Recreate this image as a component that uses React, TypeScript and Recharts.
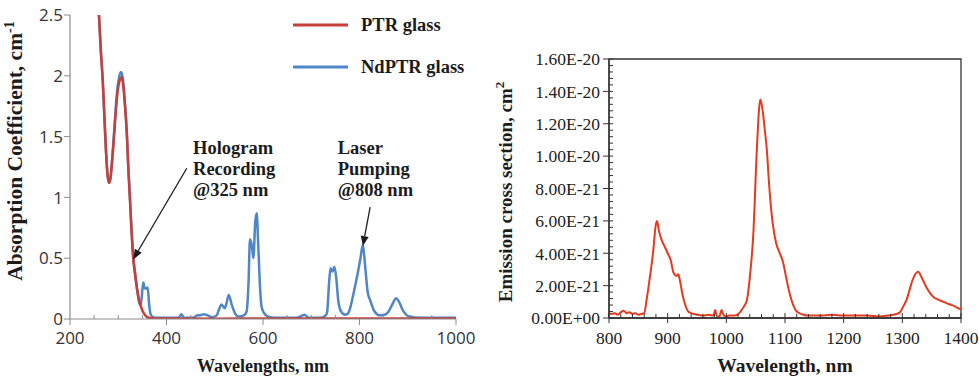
import React from "react";
import {
  Label,
  Legend,
  Line,
  LineChart,
  ReferenceArea,
  ReferenceDot,
  ReferenceLine,
  XAxis,
  YAxis,
} from "recharts";

const SERIF = "'Liberation Serif', 'Times New Roman', serif";
const SANS = "'Open Sans', 'DejaVu Sans', sans-serif";
const INK = "#1c1c1c";
const GREY_AXIS = "#8c8c8c";
const PTR_RED = "#c63f3b";
const ND_BLUE = "#4f86c6";
const EMS_RED = "#e63a1e";

// absorption, left panel
const ptrWavelength = [
  260, 264, 268, 272, 275, 278, 281, 284, 287, 290, 293, 296, 299, 302, 305, 307,
  310, 314, 318, 321, 324, 327, 331, 335, 340, 345, 350, 355, 360, 370, 400, 500,
  600, 700, 800, 900, 1000,
];
const ptrAbsorption = [
  2.5, 2.2, 1.95, 1.6, 1.35, 1.18, 1.12, 1.16, 1.28, 1.43, 1.6, 1.76, 1.88, 1.95, 1.98, 1.99,
  1.93, 1.75, 1.5, 1.22, 1.0, 0.76, 0.5, 0.36, 0.22, 0.13, 0.07, 0.035, 0.015, 0.006, 0.004, 0.003,
  0.004, 0.004, 0.005, 0.005, 0.005,
];

const ndWavelength = [
  260, 264, 268, 272, 275, 278, 281, 284, 287, 290, 293, 296, 299, 302, 305, 307,
  310, 314, 318, 321, 324, 327, 331, 335, 340, 344, 347, 350, 352, 355, 358, 361,
  364, 367, 372, 380, 425, 431, 436, 455, 465, 470, 478, 485, 495, 504, 509, 514,
  521, 525, 529, 535, 542, 550, 560, 566, 570, 573, 577, 580, 584, 587, 590, 594,
  597, 602, 608, 615, 630, 670, 680, 686, 695, 720, 730, 733, 737, 740, 744, 748,
  752, 756, 762, 770, 775, 780, 787, 795, 802, 807, 812, 817, 822, 830, 842, 852,
  860, 868, 876, 882, 890, 898, 905, 915, 950, 1000,
];
const ndAbsorption = [
  2.5, 2.2, 1.95, 1.6, 1.35, 1.18, 1.12, 1.17, 1.3, 1.46, 1.63, 1.8, 1.92, 1.99, 2.03, 2.03,
  1.96, 1.77, 1.52, 1.24, 1.02, 0.78, 0.52, 0.38, 0.22, 0.12, 0.12, 0.24, 0.3, 0.25, 0.25, 0.26,
  0.12, 0.04, 0.015, 0.01, 0.01, 0.04, 0.01, 0.01, 0.03, 0.03, 0.04, 0.03, 0.015, 0.03, 0.08, 0.12,
  0.088, 0.14, 0.197, 0.12, 0.047, 0.02, 0.03, 0.06, 0.3, 0.655, 0.6, 0.5, 0.8, 0.87, 0.62, 0.25,
  0.1, 0.05, 0.025, 0.015, 0.01, 0.01, 0.025, 0.035, 0.01, 0.01, 0.03, 0.06, 0.3, 0.417, 0.39, 0.43,
  0.33, 0.15, 0.06, 0.035, 0.04, 0.08, 0.2, 0.35, 0.5, 0.61, 0.42, 0.22, 0.156, 0.07, 0.03, 0.035,
  0.06, 0.12, 0.17, 0.14, 0.07, 0.03, 0.02, 0.012, 0.01, 0.01,
];

const absXTicks = [200, 400, 600, 800, 1000];
const absXMinorTicks = [250, 300, 350, 450, 500, 550, 650, 700, 750, 850, 900, 950];
const absYTicks = [0, 0.5, 1, 1.5, 2, 2.5];
const absYTickLabels = ["0", "0.5", "1", "1.5", "2", "2.5"];

const hologramLines = ["Hologram", "Recording", "@325 nm"];
const pumpingLines = ["Laser", "Pumping", "@808 nm"];

// emission cross section, right panel (units of 1e-21 cm^2)
const emsWavelength = [
  800, 805, 810, 815, 820, 825, 830, 835, 840, 845, 850, 855, 860, 864, 870, 875,
  880, 882, 885, 890, 895, 900, 905, 910, 915, 918, 921, 925, 930, 935, 940, 950,
  960, 970, 978, 981, 984, 988, 992, 995, 998, 1005, 1015, 1022, 1028, 1035, 1040, 1046,
  1052, 1056, 1058, 1062, 1065, 1069, 1073, 1077, 1080, 1085, 1090, 1097, 1102, 1108, 1114, 1120,
  1130, 1140, 1160, 1180, 1200, 1220, 1240, 1260, 1275, 1285, 1290, 1296, 1302, 1307, 1312, 1317,
  1322, 1327, 1333, 1341, 1347, 1353, 1360, 1370, 1380, 1388, 1395, 1400,
];
const emsCross = [
  0.3, 0.25, 0.3, 0.2, 0.35, 0.45, 0.3, 0.35, 0.25, 0.3, 0.2, 0.25, 0.3, 1.1, 2.6, 4.0,
  5.8, 6.0, 5.4, 4.8, 4.4, 4.0, 3.6, 2.8, 2.6, 2.7, 2.3, 1.5, 0.8, 0.4, 0.3, 0.2,
  0.15, 0.2, 0.15, 0.5, 0.1, 0.1, 0.5, 0.2, 0.1, 0.15, 0.15, 0.3, 0.6, 1.1, 2.5, 5.2,
  10.4, 13.0, 13.5, 12.8, 11.8, 10.4, 8.2, 6.5, 5.6, 4.6, 4.1, 3.4, 2.5, 1.5, 0.8, 0.4,
  0.22, 0.15, 0.15, 0.2, 0.15, 0.15, 0.15, 0.1, 0.15, 0.2, 0.25, 0.35, 0.75, 1.1, 1.7, 2.3,
  2.7, 2.85, 2.5, 1.9, 1.55, 1.3, 1.15, 1.0, 0.85, 0.75, 0.6, 0.55,
];

const emsXTicks = [800, 900, 1000, 1100, 1200, 1300, 1400];
const emsXMinorTicks = Array.from({ length: 31 }, (_, i) => 800 + i * 20).filter((v) => v % 100 !== 0);
const emsYTicks = [0, 2, 4, 6, 8, 10, 12, 14, 16];
const emsYTickLabels = [
  "0.00E+00", "2.00E-21", "4.00E-21", "6.00E-21", "8.00E-21",
  "1.00E-20", "1.20E-20", "1.40E-20", "1.60E-20",
];
const emsYMinorTicks = Array.from({ length: 41 }, (_, i) => i * 0.4).filter(
  (v) => Math.round(v * 10) % 20 !== 0
);

const ptrData = ptrWavelength.map((x, i) => ({ x, y: ptrAbsorption[i] }));
const ndData = ndWavelength.map((x, i) => ({ x, y: ndAbsorption[i] }));
const emsData = emsWavelength.map((x, i) => ({ x, y: emsCross[i] }));

function ArrowShape(props: any) {
  const { x1, y1, x2, y2 } = props;
  const ang = Math.atan2(y2 - y1, x2 - x1);
  const len = 10;
  const w = 4;
  const bx = x2 - len * Math.cos(ang);
  const by = y2 - len * Math.sin(ang);
  const px = -Math.sin(ang) * w;
  const py = Math.cos(ang) * w;
  return (
    <g>
      <line x1={x1} y1={y1} x2={bx} y2={by} stroke={INK} strokeWidth={1.3} />
      <polygon points={`${x2},${y2} ${bx + px},${by + py} ${bx - px},${by - py}`} fill={INK} />
    </g>
  );
}

function noteShape(lines: string[]) {
  return (p: any) => (
    <text x={p.cx} y={p.cy} fontFamily={SERIF} fontSize={18.5} fontWeight={700} fill={INK}>
      {lines.map((l, i) => (
        <tspan key={l} x={p.cx} dy={i === 0 ? 0 : 21}>
          {l}
        </tspan>
      ))}
    </text>
  );
}

function AbsorptionChart() {
  const ticks = [...absXTicks, ...absXMinorTicks].sort((a, b) => a - b);
  return (
    <LineChart width={480} height={377} margin={{ top: 15, right: 24, bottom: 28, left: 25 }}>
      <XAxis
        type="number"
        dataKey="x"
        domain={[200, 1000]}
        allowDataOverflow
        ticks={ticks}
        interval={0}
        height={30}
        tickSize={0}
        tickMargin={0}
        tickLine={false}
        axisLine={{ stroke: GREY_AXIS, strokeWidth: 1.2 }}
        tick={(p: any) => {
          const v = p.payload.value;
          const major = absXTicks.includes(v);
          return (
            <g>
              <line x1={p.x} x2={p.x} y1={p.y} y2={major ? p.y + 6 : p.y - 4} stroke={GREY_AXIS} />
              {major && (
                <text x={p.x} y={p.y + 25} textAnchor="middle" fontFamily={SANS} fontSize={17} fill="#333">
                  {v}
                </text>
              )}
            </g>
          );
        }}
      >
        <Label
          content={() => (
            <text x={263} y={372} textAnchor="middle" fontFamily={SERIF} fontSize={18} fontWeight={700} fill={INK}>
              Wavelengths, nm
            </text>
          )}
        />
      </XAxis>
      <YAxis
        type="number"
        domain={[0, 2.5]}
        allowDataOverflow
        ticks={absYTicks}
        interval={0}
        width={45}
        tickSize={0}
        tickMargin={0}
        tickLine={false}
        axisLine={{ stroke: GREY_AXIS, strokeWidth: 1.2 }}
        tick={(p: any) => {
          const idx = absYTicks.indexOf(p.payload.value);
          return (
            <g>
              <line x1={p.x - 6} x2={p.x} y1={p.y} y2={p.y} stroke={GREY_AXIS} />
              <text x={p.x - 7} y={p.y} dy="0.36em" textAnchor="end" fontFamily={SANS} fontSize={17} fill="#333">
                {absYTickLabels[idx]}
              </text>
            </g>
          );
        }}
      >
        <Label
          content={() => (
            <text
              x={22}
              y={151}
              transform="rotate(-90 22 151)"
              textAnchor="middle"
              fontFamily={SERIF}
              fontSize={21.5}
              fontWeight={700}
              fill={INK}
            >
              <tspan>Absorption Coefficient, cm</tspan>
              <tspan dy={-8} fontSize={14}>
                -1
              </tspan>
            </text>
          )}
        />
      </YAxis>
      <Legend
        layout="vertical"
        align="center"
        verticalAlign="middle"
        wrapperStyle={{ left: 290, top: 10, width: 190, height: 70 }}
        content={(props: any) => {
          const items = [...(props.payload || [])].reverse();
          return (
            <svg width={190} height={70}>
              {items.map((it: any, i: number) => (
                <g key={it.value}>
                  <line x1={3} x2={58} y1={15 + i * 42} y2={15 + i * 42} stroke={it.color} strokeWidth={3} />
                  <text
                    x={71}
                    y={15 + i * 42}
                    dy="0.35em"
                    fontFamily={SERIF}
                    fontSize={18.5}
                    fontWeight={700}
                    fill={INK}
                  >
                    {it.value}
                  </text>
                </g>
              ))}
            </svg>
          );
        }}
      />
      <Line
        data={ndData}
        dataKey="y"
        name="NdPTR glass"
        type="monotone"
        stroke={ND_BLUE}
        strokeWidth={2.5}
        dot={false}
        isAnimationActive={false}
      />
      <Line
        data={ptrData}
        dataKey="y"
        name="PTR glass"
        type="monotone"
        stroke={PTR_RED}
        strokeWidth={2.5}
        dot={false}
        isAnimationActive={false}
      />
      <ReferenceLine segment={[{ x: 442, y: 1.24 }, { x: 331, y: 0.49 }]} shape={ArrowShape} />
      <ReferenceLine segment={[{ x: 822, y: 0.92 }, { x: 807, y: 0.6 }]} shape={ArrowShape} />
      <ReferenceDot x={455} y={1.36} r={0} shape={noteShape(hologramLines)} />
      <ReferenceDot x={755} y={1.36} r={0} shape={noteShape(pumpingLines)} />
    </LineChart>
  );
}

function EmissionChart() {
  const xt = [...emsXTicks, ...emsXMinorTicks].sort((a, b) => a - b);
  const yt = [...emsYTicks, ...emsYMinorTicks].sort((a, b) => a - b);
  return (
    <LineChart width={489} height={377} margin={{ top: 59, right: 18, bottom: 29, left: 69 }}>
      <ReferenceArea x1={800} x2={1400} y1={0} y2={16} fill="none" stroke="#333" strokeWidth={1.3} />
      <XAxis
        type="number"
        dataKey="x"
        domain={[800, 1400]}
        allowDataOverflow
        ticks={xt}
        interval={0}
        height={30}
        tickSize={0}
        tickMargin={0}
        tickLine={false}
        axisLine={{ stroke: "#333", strokeWidth: 1.3 }}
        tick={(p: any) => {
          const v = p.payload.value;
          const major = emsXTicks.includes(v);
          return (
            <g>
              <line x1={p.x} x2={p.x} y1={major ? p.y + 5 : p.y} y2={major ? p.y - 5 : p.y - 4} stroke="#333" />
              {major && (
                <text x={p.x} y={p.y + 26} textAnchor="middle" fontFamily={SERIF} fontSize={17.5} fill={INK}>
                  {v}
                </text>
              )}
            </g>
          );
        }}
      >
        <Label
          content={() => (
            <text x={295} y={372} textAnchor="middle" fontFamily={SERIF} fontSize={19.5} fontWeight={700} fill={INK}>
              Wavelength, nm
            </text>
          )}
        />
      </XAxis>
      <YAxis
        type="number"
        domain={[0, 16]}
        allowDataOverflow
        ticks={yt}
        interval={0}
        width={50}
        tickSize={0}
        tickMargin={0}
        tickLine={false}
        axisLine={{ stroke: "#333", strokeWidth: 1.3 }}
        tick={(p: any) => {
          const v = p.payload.value;
          const idx = emsYTicks.indexOf(v);
          const major = idx >= 0;
          return (
            <g>
              <line x1={major ? p.x - 6 : p.x} x2={p.x + 4} y1={p.y} y2={p.y} stroke="#333" />
              {major && (
                <text x={p.x - 9} y={p.y} dy="0.36em" textAnchor="end" fontFamily={SERIF} fontSize={17.5} fill={INK}>
                  {emsYTickLabels[idx]}
                </text>
              )}
            </g>
          );
        }}
      >
        <Label
          content={() => (
            <text
              x={22}
              y={192}
              transform="rotate(-90 22 192)"
              textAnchor="middle"
              fontFamily={SERIF}
              fontSize={19}
              fontWeight={700}
              fill={INK}
            >
              <tspan>Emission cross section, cm</tspan>
              <tspan dy={-8} fontSize={13}>
                2
              </tspan>
            </text>
          )}
        />
      </YAxis>
      <Line
        data={emsData}
        dataKey="y"
        name="Emission"
        type="monotone"
        stroke={EMS_RED}
        strokeWidth={2}
        dot={false}
        isAnimationActive={false}
      />
    </LineChart>
  );
}

export default function App() {
  return (
    <div style={{ position: "absolute", left: 0, top: 0, width: 979, height: 377, background: "#fff" }}>
      <div style={{ position: "absolute", left: 0, top: 0 }}>
        <AbsorptionChart />
      </div>
      <div style={{ position: "absolute", left: 490, top: 0 }}>
        <EmissionChart />
      </div>
    </div>
  );
}
